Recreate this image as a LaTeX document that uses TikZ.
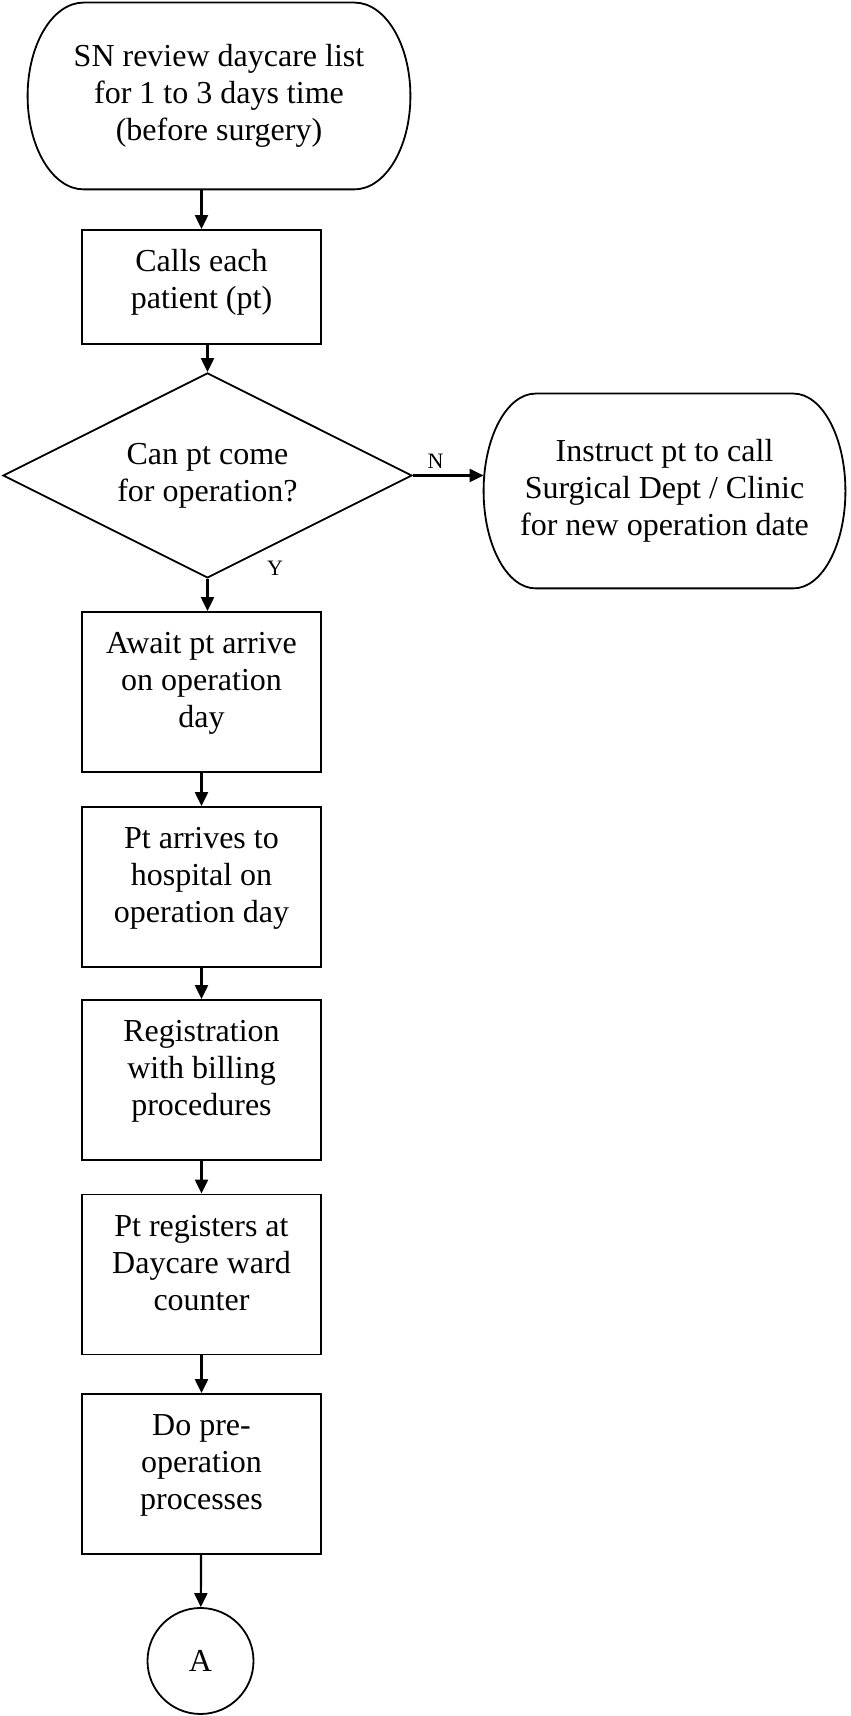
\documentclass[tikz,border=0pt]{standalone}
\usepackage{fontspec}
\setmainfont{Liberation Serif}
\usetikzlibrary{shapes.geometric,arrows.meta,calc}

\tikzset{
  process/.style={draw, line width=0.9pt, minimum width=119.5pt, inner sep=0pt},
  terminal/.style 2 args={minimum width=#1, minimum height=#2, inner sep=0pt, align=center},
  decision/.style={draw, diamond, aspect=2, line width=0.9pt, minimum width=204.5pt, minimum height=102.5pt,
    inner sep=0pt, align=center},
  connector/.style={draw, circle, line width=0.9pt, minimum size=53pt, inner sep=0pt},
  flow/.style={-{Triangle[length=7pt,width=6.5pt]}, line width=1.1pt},
  lbl/.style={font=\fontsize{11}{13}\selectfont, inner sep=0pt}
}

% text of a process box, set from the top
\newcommand{\boxtext}[2]{\parbox[c][#1][t]{119.5pt}{\centering\vspace*{8pt}\strut#2}}

% outline of a terminal: straight top and bottom, elliptic ends
\newcommand{\termline}[2]{%
  \draw[line width=0.9pt] let \p1=(#1.north west), \p2=(#1.south east), \n1={(\y1-\y2)/2} in
    (\x1+#2,\y1) -- (\x2-#2,\y1) arc[start angle=90, end angle=-90, x radius=#2, y radius=\n1]
    -- (\x1+#2,\y2) arc[start angle=270, end angle=90, x radius=#2, y radius=\n1] -- cycle;}

\begin{document}
\begin{tikzpicture}[x=0.5pt, y=0.5pt, font=\fontsize{16}{18.5}\selectfont]
  \useasboundingbox (0,0) rectangle (850,1716);

  \node[terminal={191pt}{93pt}] (start) at (219,1620) {SN review daycare list\\for 1 to 3 days time\\(before surgery)};
  \node[process] (calls) at (201.5,1429) {\boxtext{57pt}{Calls each\\patient (pt)}};
  \node[decision] (dec) at (207.5,1240.5) {Can pt come\\for operation?};
  \node[terminal={180.5pt}{97pt}] (instruct) at (664.5,1225) {Instruct pt to call\\Surgical Dept / Clinic\\for new operation date};
  \node[process] (await) at (201.5,1024) {\boxtext{80pt}{Await pt arrive\\on operation\\day}};
  \node[process] (arrive) at (201.5,829) {\boxtext{80pt}{Pt arrives to\\hospital on\\operation day}};
  \node[process] (billing) at (201.5,636) {\boxtext{80pt}{Registration\\with billing\\procedures}};
  \node[process] (counter) at (201.5,441.5) {\boxtext{80pt}{Pt registers at\\Daycare ward\\counter}};
  \node[process] (preop) at (201.5,242) {\boxtext{80pt}{Do pre-\\operation\\processes}};
  \node[connector] (conA) at (200.5,55) {A};

  \termline{start}{28pt}
  \termline{instruct}{26pt}

  \draw[flow] (start.south -| calls.north) -- (calls.north);
  \draw[flow] (calls.south -| dec.north) -- (dec.north);
  \draw[flow] (dec.east) -- (dec.east -| instruct.west) node[lbl, pos=0.32, above=3pt] (no) {N};
  \draw[flow] (dec.south) -- (dec.south |- await.north);
  \node[lbl] (yes) at (275,1148) {Y};
  \draw[flow] (await) -- (arrive);
  \draw[flow] (arrive) -- (billing);
  \draw[flow] (billing) -- (counter);
  \draw[flow] (counter) -- (preop);
  \draw[flow] (preop) -- (conA);
\end{tikzpicture}
\end{document}
